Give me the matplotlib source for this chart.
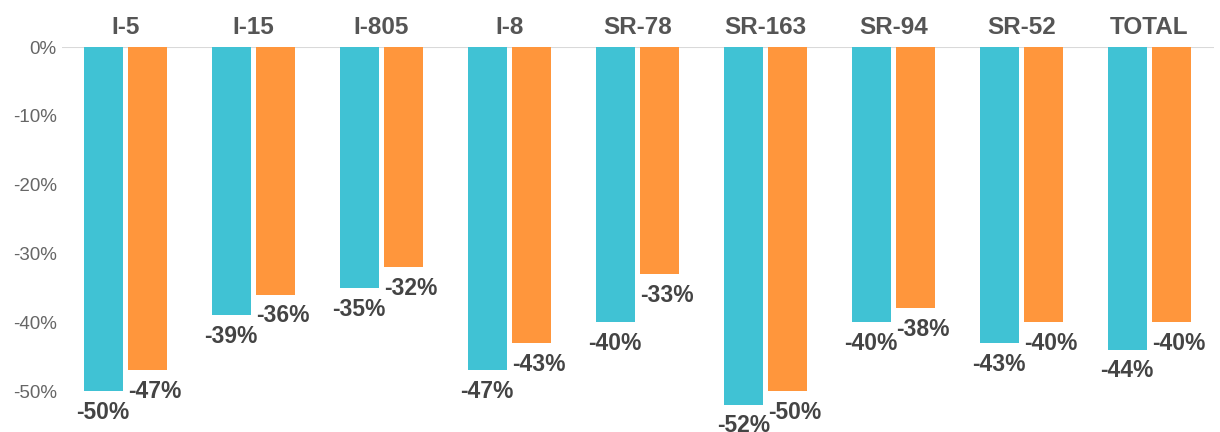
import matplotlib
matplotlib.use("Agg")
import matplotlib.pyplot as plt
import numpy as np

categories = ["I-5", "I-15", "I-805", "I-8", "SR-78", "SR-163", "SR-94", "SR-52", "TOTAL"]
series_a = [-50, -39, -35, -47, -40, -52, -40, -43, -44]
series_b = [-47, -36, -32, -43, -33, -50, -38, -40, -40]
yticks = [0, -10, -20, -30, -40, -50]

teal = "#40C2D4"
orange = "#FF963C"

plt.rcParams['font.family'] = ['Liberation Sans', 'DejaVu Sans']

W, H = 1220, 432
fig = plt.figure(figsize=(W / 100, H / 100), dpi=100)
left_px, right_px, top_px = 61.5, 1213.5, 47
ax = fig.add_axes([left_px / W, 0, (right_px - left_px) / W, 1 - top_px / H])

x = np.arange(len(categories))
w = 0.305
off = 0.174
ax.bar(x - off, series_a, width=w, color=teal, zorder=2)
ax.bar(x + off, series_b, width=w, color=orange, zorder=2)

ax.set_xlim(-0.5, len(categories) - 0.5)
ax.set_ylim(-385 / 6.88, 0)
ax.axhline(0, color="#d9d9d9", lw=1.5, zorder=1)

for s in ax.spines.values():
    s.set_visible(False)

ax.set_yticks(yticks)
ax.set_yticklabels([f"{v}%" for v in yticks], color="#666666", fontsize=13.5)
ax.tick_params(axis="y", length=0, pad=3.5)

ax.xaxis.tick_top()
ax.set_xticks(x)
ax.set_xticklabels(categories, fontsize=17.5, fontweight="bold", color="#555555")
ax.tick_params(axis="x", length=0, pad=6)

for xi, v in zip(x, series_a):
    ax.annotate(f"{v}%", (xi - off, v), xytext=(0, -7), textcoords="offset points",
                ha="center", va="top", fontsize=16.5, fontweight="bold",
                color="#444444", annotation_clip=False)
for xi, v in zip(x, series_b):
    ax.annotate(f"{v}%", (xi + off - w / 2, v), xytext=(0, -7), textcoords="offset points",
                ha="left", va="top", fontsize=16.5, fontweight="bold",
                color="#444444", annotation_clip=False)

fig.savefig("out.png", dpi=100)
